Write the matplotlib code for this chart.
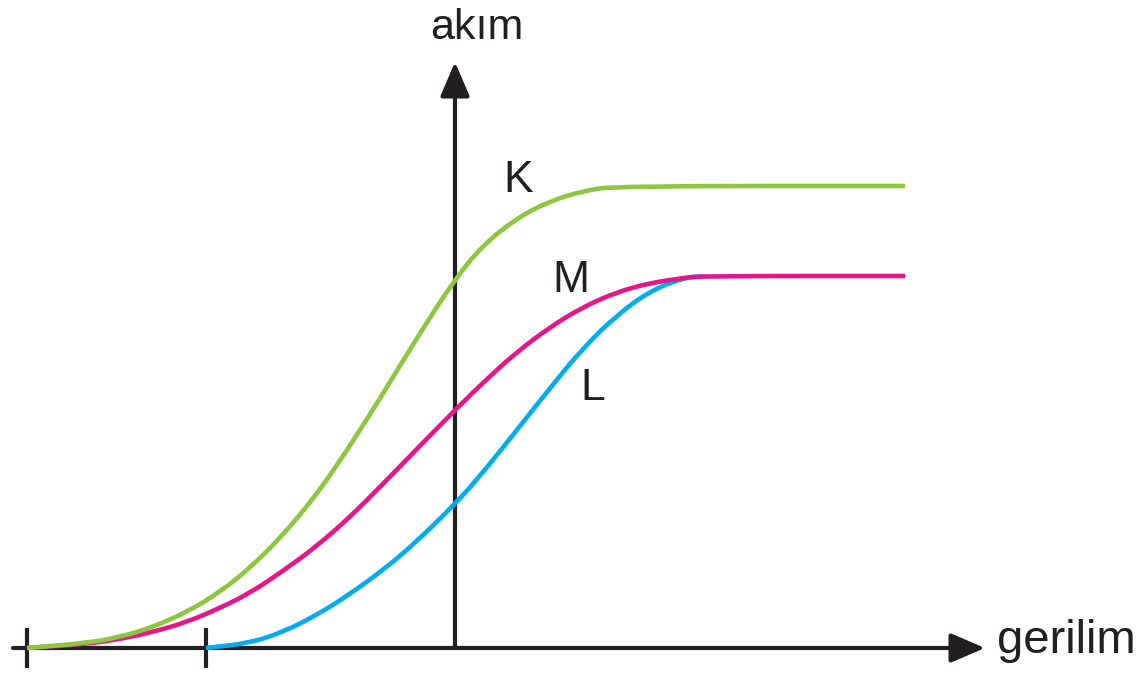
import matplotlib
matplotlib.use("Agg")
import matplotlib.pyplot as plt
from matplotlib.path import Path
from matplotlib.patches import PathPatch, ArrowStyle

plt.rcParams['font.family'] = ['Liberation Sans', 'DejaVu Sans']

# Current-voltage curves of three photocells (arbitrary units)
k_voltage = [-4.28, -3.68, -3.35, -3.02, -2.68, -2.35, -2.05, -1.72, -1.42, -1.15,
             -0.88, -0.68, -0.35, 0.00, 0.28, 0.62, 0.95, 1.28, 1.60, 4.50]
k_current = [0.00, 0.05, 0.11, 0.21, 0.36, 0.56, 0.80, 1.13, 1.49, 1.87,
             2.29, 2.61, 3.15, 3.69, 4.03, 4.30, 4.47, 4.57, 4.62, 4.62]

m_voltage = [-4.28, -3.68, -3.35, -3.02, -2.68, -2.35, -2.05, -1.72, -1.38, -1.05,
             -0.75, -0.42, 0.00, 0.35, 0.62, 0.95, 1.28, 1.62, 1.95, 2.28, 2.48, 4.50]
m_current = [0.00, 0.04, 0.09, 0.16, 0.26, 0.40, 0.55, 0.77, 1.02, 1.31,
             1.61, 1.95, 2.38, 2.72, 2.96, 3.21, 3.41, 3.56, 3.65, 3.70, 3.72, 3.72]

l_voltage = [-2.49, -2.05, -1.72, -1.38, -1.05, -0.72, -0.42, 0.00, 0.25, 0.58,
             0.95, 1.28, 1.62, 1.95, 2.28, 2.48]
l_current = [0.00, 0.05, 0.16, 0.33, 0.54, 0.78, 1.03, 1.44, 1.72, 2.13,
             2.60, 3.00, 3.33, 3.57, 3.70, 3.72]

stop_voltages = [-4.28, -2.49]
curve_names = ["K", "M", "L"]
curve_colors = ["#8dc63f", "#e6168a", "#00aeef"]

INK = "#231f20"

fig = plt.figure(figsize=(11.44, 6.75), dpi=100)
ax = fig.add_axes([0, 0, 1, 1])
ax.set_xlim(-4.55, 6.89)
ax.set_ylim(-0.27, 6.48)
ax.axis("off")


def smooth_path(xs, ys):
    """Quadratic B-spline style path through the sample points' midpoints."""
    pts = list(zip(xs, ys))
    verts = [pts[0]]
    codes = [Path.MOVETO]
    mid = lambda a, b: ((a[0] + b[0]) / 2, (a[1] + b[1]) / 2)
    verts.append(mid(pts[0], pts[1]))
    codes.append(Path.LINETO)
    for i in range(1, len(pts) - 1):
        verts += [pts[i], mid(pts[i], pts[i + 1])]
        codes += [Path.CURVE3, Path.CURVE3]
    verts.append(pts[-1])
    codes.append(Path.LINETO)
    return Path(verts, codes)


# axes with arrow heads
arrow = ArrowStyle("-|>", head_length=21, head_width=9)
ax.annotate("", xy=(5.30, 0), xytext=(-4.42, 0),
            arrowprops=dict(arrowstyle=arrow, mutation_scale=1, lw=3.0,
                            color=INK, shrinkA=0, shrinkB=0))
ax.annotate("", xy=(0, 5.86), xytext=(0, 0),
            arrowprops=dict(arrowstyle=arrow, mutation_scale=1, lw=3.0,
                            color=INK, shrinkA=0, shrinkB=0))

# stopping-voltage marks
ax.vlines(stop_voltages, -0.20, 0.20, color=INK, lw=3.0, zorder=3)

series = {
    "L": (l_voltage, l_current, curve_colors[2]),
    "M": (m_voltage, m_current, curve_colors[1]),
    "K": (k_voltage, k_current, curve_colors[0]),
}
for name, (xs, ys, color) in series.items():
    ax.add_patch(PathPatch(smooth_path(xs, ys), fill=False, edgecolor=color,
                           lw=3.3, capstyle="butt", joinstyle="round", zorder=4))

# curve labels
label_pos = {"K": (0.63, 4.67), "M": (1.16, 3.68), "L": (1.38, 2.60)}
for name in curve_names:
    ax.text(*label_pos[name], name, fontsize=32, color=INK,
            ha="center", va="center")

# axis titles
ax.text(0.22, 6.09, "akım", fontsize=31, color=INK, ha="center", va="baseline")
ax.text(5.42, -0.05, "gerilim", fontsize=34, color=INK, ha="left", va="baseline")

fig.savefig("out.png", dpi=100)
